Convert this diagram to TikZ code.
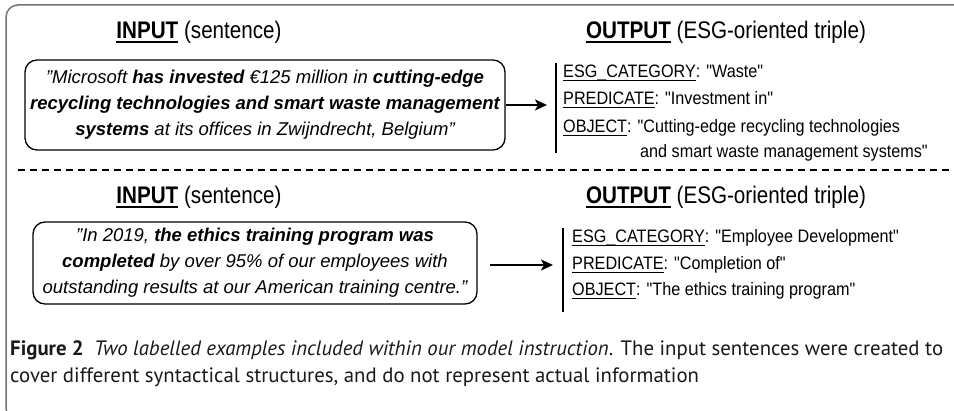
\documentclass[tikz,border=0pt]{standalone}
\usepackage{fontspec}
\setmainfont{Liberation Sans}
\newfontfamily\titlefont[FakeStretch=0.86]{Liberation Sans}
\newfontfamily\listfont[FakeStretch=0.9]{Liberation Sans}
\newfontfamily\capfont{PT Sans}
\usetikzlibrary{arrows.meta}
% underline drawn at a fixed depth, so that it covers an underscore
\newsavebox\ulbox
\newcommand\ulx[1]{\sbox\ulbox{#1}\leavevmode
  \rlap{\rule[-0.2em]{\wd\ulbox}{0.075em}}\usebox\ulbox}
\tikzset{
  frameline/.style={draw=black!55, line width=1.5pt},
  sentbox/.style={draw, line width=1.3pt, rounded corners=12pt, align=center,
    inner sep=0pt, font=\itshape\fontsize{18.5}{26}\selectfont},
  header/.style={font=\titlefont\fontsize{24}{28}\selectfont, inner sep=0pt},
  field/.style={font=\listfont\fontsize{18}{22}\selectfont, anchor=west, inner sep=0pt},
  flow/.style={line width=1.6pt, -{Stealth[length=12pt,width=11pt,inset=3pt]}},
  bar/.style={line width=1.5pt},
  divider/.style={line width=1.4pt, dash pattern=on 7pt off 5pt},
  caption/.style={font=\capfont\fontsize{20.8}{27}\selectfont, anchor=base west,
    inner sep=0pt, text=black!90}
}
\begin{document}
\begin{tikzpicture}[x=1pt, y=-1pt]
\useasboundingbox (0,0) rectangle (954,411);
\begin{scope}
  \clip (0,0) rectangle (954,411);
  \draw[frameline, rounded corners=12pt] (6,5) rectangle (1000,420);
\end{scope}

% upper example
\node[header] (in1) at (199,32) {\ulx{\textbf{INPUT}} (sentence)};
\node[header] (out1) at (726,32) {\ulx{\textbf{OUTPUT}} (ESG-oriented triple)};
\node[sentbox, minimum width=480pt, minimum height=90pt] (box1) at (265,105)
  {"Microsoft \textbf{has invested} €125 million in \textbf{cutting-edge}\\
   \textbf{recycling technologies and smart waste management}\\
   \textbf{systems} at its offices in Zwijndrecht, Belgium"};
\coordinate (bar1t) at (556,63);
\coordinate (bar1b) at (556,153);
\coordinate (tip1) at (547,105);
\draw[bar] (bar1t) -- (bar1b);
\draw[flow] (box1.east) -- (tip1);
\node[field] (cat1) at (563,73) {\ulx{ESG\_CATEGORY}: "Waste"};
\node[field] (pred1) at (563,100) {\ulx{PREDICATE}: "Investment in"};
\node[field] (obj1) at (563,128) {\ulx{OBJECT}: "Cutting-edge recycling technologies};
\node[field] (obj1b) at (640,153) {and smart waste management systems"};

% separator
\coordinate (sepL) at (18,170);
\coordinate (sepR) at (954,170);
\draw[divider] (sepL) -- (sepR);

% lower example
\node[header] (in2) at (199,197) {\ulx{\textbf{INPUT}} (sentence)};
\node[header] (out2) at (726,197) {\ulx{\textbf{OUTPUT}} (ESG-oriented triple)};
\node[sentbox, minimum width=444pt, minimum height=82pt] (box2) at (255,263)
  {"In 2019, \textbf{the ethics training program was}\\
   \textbf{completed} by over 95\% of our employees with\\
   outstanding results at our American training centre."};
\coordinate (bar2t) at (563,228);
\coordinate (bar2b) at (563,312);
\coordinate (tip2) at (553,265);
\draw[bar] (bar2t) -- (bar2b);
\draw[flow, shorten <=12pt] (box2.east |- tip2) -- (tip2);
\node[field] (cat2) at (572,238) {\ulx{ESG\_CATEGORY}: "Employee Development"};
\node[field] (pred2) at (572,265) {\ulx{PREDICATE}: "Completion of"};
\node[field] (obj2) at (572,291) {\ulx{OBJECT}: "The ethics training program"};

% caption
\node[caption] (cap1) at (10,356)
  {\textbf{Figure 2}\enspace\textit{Two labelled examples included within our model instruction}. The input sentences were created to};
\node[caption] (cap2) at (10,383)
  {cover different syntactical structures, and do not represent actual information};
\end{tikzpicture}
\end{document}
